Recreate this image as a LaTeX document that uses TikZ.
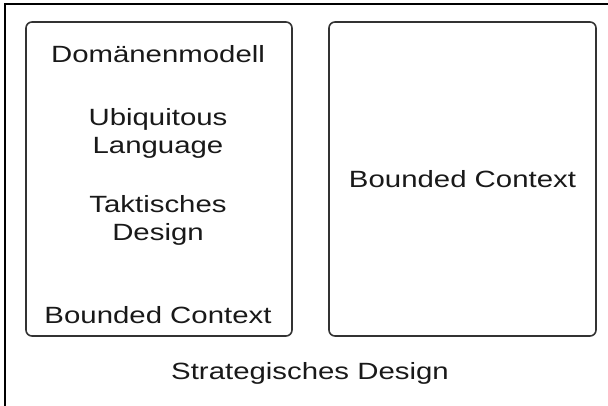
\documentclass[tikz,border=0pt]{standalone}
\usepackage{fontspec}
\setmainfont{Liberation Sans}
\newfontfamily\widesans[FakeStretch=1.25]{Liberation Sans}
\begin{document}
\begin{tikzpicture}[x=1pt,y=-1pt,
  label/.style={font=\widesans\fontsize{23.5}{28}\selectfont, inner sep=0pt, anchor=base, align=center, text=black!90},
  ctxbox/.style={draw=black!80, line width=1.6pt, rounded corners=6pt}]
  \useasboundingbox (0,0) rectangle (608,405);
  % outer frame (runs off the right and bottom edges)
  \draw[line width=1.4pt, black] (5,4) rectangle (620,420);
  % the two bounded contexts
  \draw[ctxbox] (26,22) rectangle (292,336);
  \draw[ctxbox] (329,22) rectangle (596,336);
  % left context contents
  \node[label] (dm) at (158,62) {Domänenmodell};
  \node[label] (ul) at (158,153) {Ubiquitous\\Language};
  \node[label] (td) at (158,240) {Taktisches\\Design};
  \node[label] (bc1) at (158,323) {Bounded Context};
  % right context
  \node[label] (bc2) at (462.5,187) {Bounded Context};
  % caption
  \node[label] (sd) at (310,379) {Strategisches Design};
\end{tikzpicture}
\end{document}
